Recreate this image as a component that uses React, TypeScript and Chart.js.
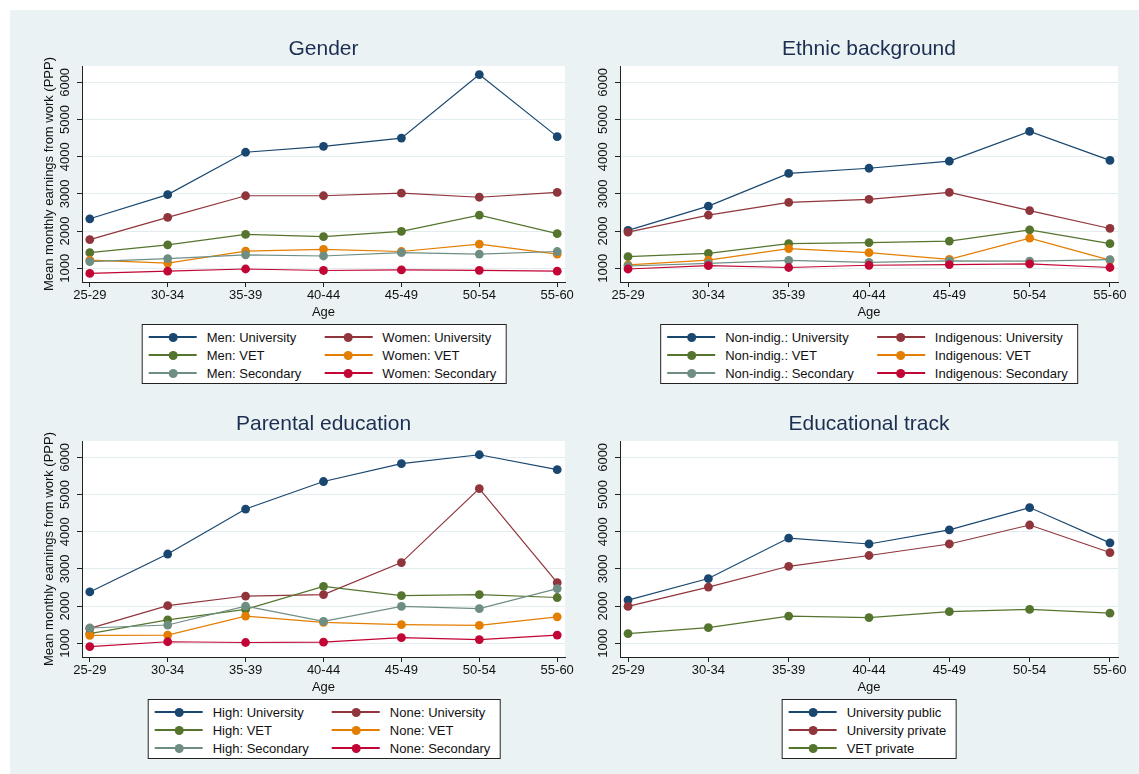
import React, { useEffect, useRef } from 'react';
import { Chart, registerables } from 'chart.js';

Chart.register(...registerables);

// ---------- data ----------
const ageGroups = ['25-29', '30-34', '35-39', '40-44', '45-49', '50-54', '55-60'];
const yTickValues = [1000, 2000, 3000, 4000, 5000, 6000];
const yAxisTitle = 'Mean monthly earnings from work (PPP)';
const xAxisTitle = 'Age';

const seriesColors = ['#1A476F', '#90353B', '#55752F', '#E37E00', '#6E8E84', '#C10534'];

// Gender
const genderLabels = ['Men: University', 'Women: University', 'Men: VET', 'Women: VET', 'Men: Secondary', 'Women: Secondary'];
const menUniversity = [2330, 2980, 4120, 4280, 4500, 6210, 4540];
const womenUniversity = [1770, 2370, 2950, 2950, 3020, 2910, 3040];
const menVET = [1420, 1630, 1910, 1850, 1990, 2430, 1930];
const womenVET = [1220, 1140, 1460, 1510, 1450, 1650, 1380];
const menSecondary = [1180, 1260, 1360, 1330, 1420, 1380, 1450];
const womenSecondary = [860, 920, 980, 940, 955, 945, 920];

// Ethnic background
const ethnicLabels = ['Non-indig.: University', 'Indigenous: University', 'Non-indig.: VET', 'Indigenous: VET', 'Non-indig.: Secondary', 'Indigenous: Secondary'];
const nonIndigUniversity = [2020, 2670, 3550, 3690, 3880, 4680, 3900];
const indigUniversity = [1970, 2430, 2770, 2850, 3040, 2550, 2070];
const nonIndigVET = [1310, 1400, 1660, 1690, 1730, 2030, 1660];
const indigVET = [1090, 1220, 1530, 1420, 1240, 1810, 1220];
const nonIndigSecondary = [1060, 1130, 1210, 1160, 1200, 1190, 1230];
const indigSecondary = [980, 1070, 1020, 1080, 1100, 1120, 1020];

// Parental education
const parentalLabels = ['High: University', 'None: University', 'High: VET', 'None: VET', 'High: Secondary', 'None: Secondary'];
const highUniversity = [2380, 3400, 4610, 5350, 5830, 6070, 5670];
const noneUniversity = [1400, 2010, 2270, 2310, 3170, 5160, 2630];
const highVET = [1260, 1630, 1910, 2530, 2280, 2310, 2230];
const noneVET = [1210, 1220, 1730, 1560, 1500, 1480, 1710];
const highSecondary = [1410, 1490, 2000, 1590, 1990, 1930, 2470];
const noneSecondary = [910, 1040, 1020, 1030, 1150, 1100, 1220];

// Educational track
const trackLabels = ['University public', 'University private', 'VET private'];
const universityPublic = [2160, 2740, 3830, 3670, 4050, 4650, 3700];
const universityPrivate = [1990, 2510, 3070, 3360, 3670, 4180, 3440];
const vetPrivate = [1260, 1420, 1730, 1690, 1850, 1910, 1810];

// ---------- styling / layout ----------
const FONT = "'Liberation Sans', Arial, Helvetica, sans-serif";
const TEXT = '#111111';
const AXIS = '#222222';
const GRID = '#E3ECEE';
const TITLE_COLOR = '#1C2E52';
const BG = '#EAF2F3';
const CANVAS_H = 310;

type PanelDef = {
  title: string;
  labels: string[];
  series: number[][];
  left: number;
  top: number;
  width: number;
  yAxisWidth: number;
  padRight: number;
  yTitle?: string;
  legendTop: number;
  legendCenter: number;
  cols: number;
};

const panels: PanelDef[] = [
  {
    title: 'Gender', labels: genderLabels,
    series: [menUniversity, womenUniversity, menVET, womenVET, menSecondary, womenSecondary],
    left: 10, top: 10, width: 565, yAxisWidth: 72, padRight: 9, yTitle: yAxisTitle,
    legendTop: 324, legendCenter: 324, cols: 2,
  },
  {
    title: 'Ethnic background', labels: ethnicLabels,
    series: [nonIndigUniversity, indigUniversity, nonIndigVET, indigVET, nonIndigSecondary, indigSecondary],
    left: 575, top: 10, width: 564, yAxisWidth: 45, padRight: 21,
    legendTop: 324, legendCenter: 869, cols: 2,
  },
  {
    title: 'Parental education', labels: parentalLabels,
    series: [highUniversity, noneUniversity, highVET, noneVET, highSecondary, noneSecondary],
    left: 10, top: 385, width: 565, yAxisWidth: 72, padRight: 9, yTitle: yAxisTitle,
    legendTop: 699, legendCenter: 324, cols: 2,
  },
  {
    title: 'Educational track', labels: trackLabels,
    series: [universityPublic, universityPrivate, vetPrivate],
    left: 575, top: 385, width: 564, yAxisWidth: 45, padRight: 21,
    legendTop: 699, legendCenter: 869, cols: 1,
  },
];

const plotBackground = {
  id: 'plotBackground',
  beforeDraw(chart: any) {
    const { ctx, chartArea: a } = chart;
    ctx.save();
    ctx.fillStyle = '#ffffff';
    ctx.fillRect(a.left, a.top, a.right - a.left, a.bottom - a.top);
    ctx.restore();
  },
};

function Legend({ labels, cols, center, top }: { labels: string[]; cols: number; center: number; top: number }) {
  return (
    <div
      style={{
        position: 'absolute',
        left: center,
        top,
        transform: 'translateX(-50%)',
        background: '#fff',
        border: '1px solid #222',
        boxSizing: 'border-box',
        height: 60,
        padding: '3px 9px 3px 6px',
        display: 'grid',
        gridTemplateColumns: cols === 2 ? 'auto auto' : 'auto',
        gridAutoRows: '18px',
        columnGap: 23,
        font: `13px ${FONT}`,
        color: TEXT,
        whiteSpace: 'nowrap',
      }}
    >
      {labels.map((l, i) => (
        <div key={l} style={{ display: 'flex', alignItems: 'center', height: 18 }}>
          <span style={{ position: 'relative', width: 48, height: 18, marginRight: 10, flex: 'none' }}>
            <span style={{ position: 'absolute', left: 0, width: 48, top: 8.25, height: 1.5, background: seriesColors[i] }} />
            <span style={{ position: 'absolute', left: 19.5, top: 4.5, width: 9, height: 9, borderRadius: '50%', background: seriesColors[i] }} />
          </span>
          <span>{l}</span>
        </div>
      ))}
    </div>
  );
}

function Panel({ def }: { def: PanelDef }) {
  const ref = useRef<HTMLCanvasElement>(null);
  useEffect(() => {
    const font = { family: FONT, size: 13 };
    const chart = new Chart(ref.current as HTMLCanvasElement, {
      type: 'line',
      data: {
        datasets: def.series.map((vals, i) => ({
          label: def.labels[i],
          data: vals.map((y, x) => ({ x, y })),
          borderColor: seriesColors[i],
          backgroundColor: seriesColors[i],
          pointBackgroundColor: seriesColors[i],
          pointBorderColor: seriesColors[i],
          pointBorderWidth: 0,
          pointRadius: 4.4,
          borderWidth: 1.2,
          tension: 0,
          order: -i,
        })),
      },
      options: {
        responsive: false,
        animation: false,
        devicePixelRatio: 1,
        layout: { padding: { left: 0, right: def.padRight, top: 0, bottom: 0 } },
        plugins: {
          legend: { display: false },
          tooltip: { enabled: false },
          title: {
            display: true,
            text: def.title,
            fullSize: false,
            color: TITLE_COLOR,
            font: { family: FONT, size: 21, weight: 'normal' },
            padding: { top: 26.4, bottom: 4.4 },
          },
        },
        scales: {
          x: {
            type: 'linear',
            min: -0.1,
            max: 6.1,
            afterBuildTicks: (s: any) => {
              s.ticks = ageGroups.map((_, i) => ({ value: i }));
            },
            afterFit: (s: any) => {
              s.height = 38;
            },
            ticks: {
              callback: (v: any) => ageGroups[v as number],
              font,
              color: TEXT,
              padding: 1,
              maxRotation: 0,
              minRotation: 0,
              autoSkip: false,
            },
            grid: { drawOnChartArea: false, drawTicks: true, tickLength: 5, tickColor: AXIS, tickWidth: 1 },
            border: { display: true, color: AXIS, width: 1 },
            title: { display: true, text: xAxisTitle, font, color: TEXT, padding: { top: 0, bottom: 0.2 } },
          },
          y: {
            type: 'linear',
            min: 630,
            max: 6440,
            afterBuildTicks: (s: any) => {
              s.ticks = yTickValues.map((v) => ({ value: v }));
            },
            afterFit: (s: any) => {
              s.width = def.yAxisWidth;
            },
            ticks: {
              font,
              color: TEXT,
              minRotation: 90,
              maxRotation: 90,
              crossAlign: 'center',
              padding: -2.5,
              callback: (v: any) => String(v),
            },
            grid: { color: GRID, lineWidth: 1, tickColor: AXIS, tickLength: 5, drawTicks: true },
            border: { display: true, color: AXIS, width: 1 },
            title: def.yTitle
              ? { display: true, text: def.yTitle, font, color: TEXT, padding: { top: 31.2, bottom: 0 } }
              : { display: false },
          },
        },
      },
      plugins: [plotBackground],
    } as any);
    return () => chart.destroy();
  }, [def]);

  return (
    <>
      <canvas
        ref={ref}
        width={def.width}
        height={CANVAS_H}
        style={{ position: 'absolute', left: def.left, top: def.top, width: def.width, height: CANVAS_H }}
      />
      <Legend labels={def.labels} cols={def.cols} center={def.legendCenter} top={def.legendTop} />
    </>
  );
}

export default function App() {
  useEffect(() => {
    document.body.style.margin = '0';
  }, []);
  return (
    <div style={{ position: 'absolute', left: 0, top: 0, width: 1139, height: 774, background: '#fff', overflow: 'hidden' }}>
      <div style={{ position: 'absolute', left: 10, top: 10, right: 0, bottom: 0, background: BG }} />
      {panels.map((p) => (
        <Panel key={p.title} def={p} />
      ))}
    </div>
  );
}
